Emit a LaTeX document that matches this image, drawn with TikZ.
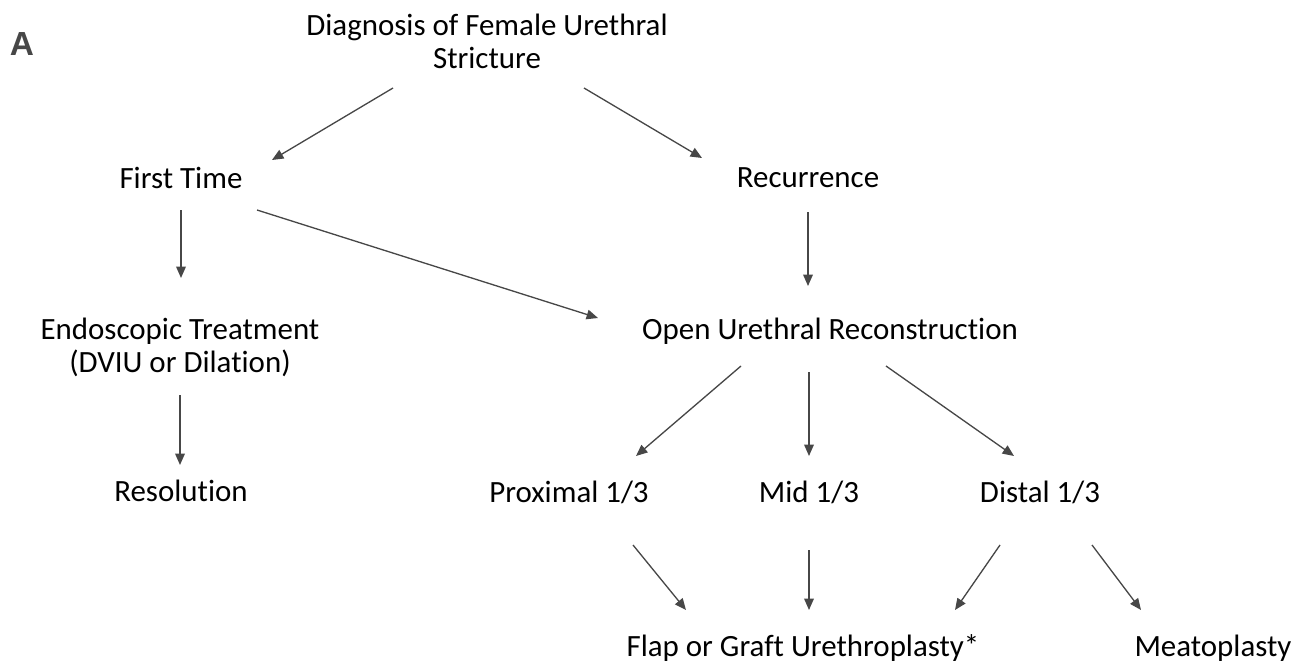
\documentclass[tikz,border=0pt]{standalone}
\usepackage{fontspec}
\setmainfont{Carlito}[Ligatures={NoCommon}]
\newfontfamily\labelfont{Liberation Sans}
\usetikzlibrary{arrows.meta}
\definecolor{pfeilgrau}{HTML}{474747}
\tikzset{
  kasten/.style={align=center, inner sep=0pt, font=\fontsize{17.6}{18.7}\selectfont},
  pfeil/.style={-{Triangle[length=6.5pt,width=5.5pt]}, draw=pfeilgrau, line width=0.75pt}
}
\begin{document}
\begin{tikzpicture}[x=0.02cm, y=-0.02cm]
        \useasboundingbox (0,0) rectangle (1299,669);

        \node (label) at (22,44) [text=pfeilgrau, font=\labelfont\bfseries\fontsize{19}{19}\selectfont] {A};

        \node (diag) at (487,41) [kasten] {Diagnosis of Female Urethral\\Stricture};
        \node (first) at (181,178) [kasten] {First Time};
        \node (rec) at (808,178) [kasten] {Recurrence};
        \node (endo) at (180,347) [kasten] {Endoscopic Treatment\\(DVIU or Dilation)};
        \node (open) at (830,331) [kasten] {Open Urethral Reconstruction};
        \node (res) at (181,491) [kasten] {Resolution};
        \node (prox) at (569,492) [kasten] {Proximal 1/3};
        \node (mid) at (809,492) [kasten] {Mid 1/3};
        \node (dist) at (1040,492) [kasten] {Distal 1/3};
        \node (flap) at (803,648) [kasten] {Flap or Graft Urethroplasty*};
        \node (meato) at (1213,648) [kasten] {Meatoplasty};

        % Diagnose
        \draw[pfeil] ([shift={(-94,47)}]diag.center) -- ([shift={(91,-18)}]first.center);
        \draw[pfeil] ([shift={(97,47)}]diag.center) -- ([shift={(-106,-20)}]rec.center);

        % erstes Mal / Rezidiv
        \draw[pfeil] ([shift={(0,32)}]first.center) -- ([shift={(1,-69)}]endo.center);
        \draw[pfeil] ([shift={(76,32)}]first.center) -- ([shift={(-232,-13)}]open.center);
        \draw[pfeil] ([shift={(0,34)}]rec.center) -- ([shift={(-22,-45)}]open.center);
        \draw[pfeil] ([shift={(0,48)}]endo.center) -- ([shift={(-1,-26)}]res.center);

        % Rekonstruktion
        \draw[pfeil] ([shift={(-89,35)}]open.center) -- ([shift={(67,-36)}]prox.center);
        \draw[pfeil] ([shift={(-21,41)}]open.center) -- ([shift={(0,-36)}]mid.center);
        \draw[pfeil] ([shift={(56,35)}]open.center) -- ([shift={(-26,-36)}]dist.center);

        % Drittel
        \draw[pfeil] ([shift={(64,53)}]prox.center) -- ([shift={(-117,-38)}]flap.center);
        \draw[pfeil] ([shift={(0,58)}]mid.center) -- ([shift={(6,-38)}]flap.center);
        \draw[pfeil] ([shift={(-40,53)}]dist.center) -- ([shift={(152,-38)}]flap.center);
        \draw[pfeil] ([shift={(52,53)}]dist.center) -- ([shift={(-72,-38)}]meato.center);
\end{tikzpicture}
\end{document}
